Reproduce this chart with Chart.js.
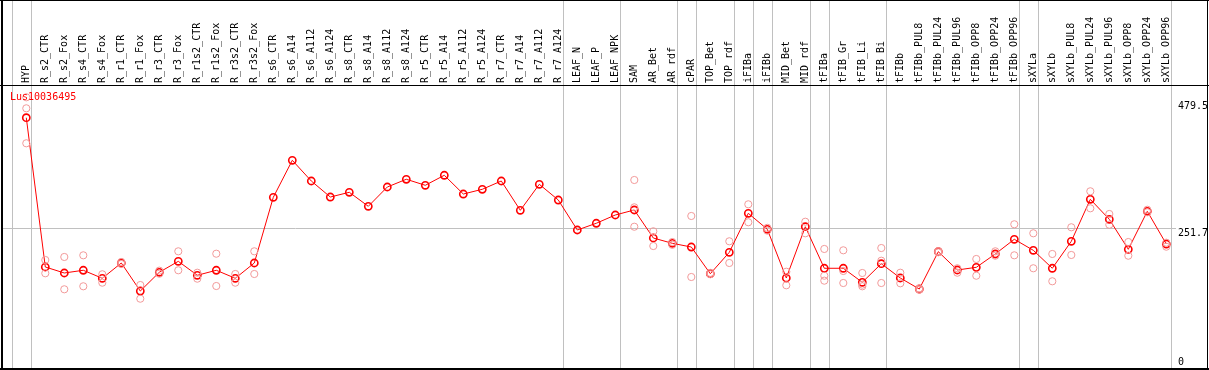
<!DOCTYPE html>
<html><head><meta charset="utf-8">
<script src="https://cdn.jsdelivr.net/npm/chart.js@4"></script>
<style>html,body{margin:0;padding:0;background:#fff;} canvas{display:block;}</style>
</head><body>
<canvas id="c" width="1209" height="370"></canvas>
<script>
const geneName = 'Lus10036495';
const categories = ['HYP','R_s2_CTR','R_s2_Fox','R_s4_CTR','R_s4_Fox','R_r1_CTR','R_r1_Fox','R_r3_CTR','R_r3_Fox','R_r1s2_CTR','R_r1s2_Fox','R_r3s2_CTR','R_r3s2_Fox','R_s6_CTR','R_s6_A14','R_s6_A112','R_s6_A124','R_s8_CTR','R_s8_A14','R_s8_A112','R_s8_A124','R_r5_CTR','R_r5_A14','R_r5_A112','R_r5_A124','R_r7_CTR','R_r7_A14','R_r7_A112','R_r7_A124','LEAF_N','LEAF_P','LEAF_NPK','SAM','AR_Bet','AR_rdf','cPAR','TOP_Bet','TOP_rdf','iFIBa','iFIBb','MID_Bet','MID_rdf','tFIBa','tFIB_Gr','tFIB_Li','tFIB_Bi','tFIBb','tFIBb_PUL8','tFIBb_PUL24','tFIBb_PUL96','tFIBb_OPP8','tFIBb_OPP24','tFIBb_OPP96','sXYLa','sXYLb','sXYLb_PUL8','sXYLb_PUL24','sXYLb_PUL96','sXYLb_OPP8','sXYLb_OPP24','sXYLb_OPP96'];
const means = [450.0,181.6,170.8,175.7,161.3,188.8,138.4,172.1,191.8,166.7,175.7,161.3,188.8,306.9,373.4,336.2,307.4,315.9,290.7,325.4,339.3,328.5,346.5,312.8,321.3,336.2,283.5,330.3,302.0,248.1,260.2,275.1,284.1,233.7,224.2,217.5,169.5,208.0,278.1,249.4,161.8,254.0,179.3,179.3,154.1,187.5,161.8,142.0,209.1,176.2,181.0,205.0,231.4,211.6,179.3,227.8,303.3,267.3,213.4,281.7,222.9];
const rep1 = [486.7,194.2,199.6,202.6,168.5,190.5,149.2,175.0,209.8,171.3,205.5,169.0,209.8,null,null,null,null,null,null,null,null,null,null,null,null,null,null,null,null,null,null,null,338.0,245.8,226.5,273.3,171.0,227.8,294.3,252.0,173.1,263.0,214.0,211.6,170.8,215.7,171.3,143.0,210.0,179.3,196.0,209.8,258.4,242.2,205.0,253.0,317.7,276.9,226.5,284.5,225.3];
const rep2 = [466.9,170.3,141.5,146.9,153.4,187.0,124.6,169.5,175.7,160.6,147.4,153.4,169.0,null,null,null,null,null,null,null,null,null,null,null,null,null,null,null,null,null,null,null,288.9,219.3,221.5,163.6,168.5,188.8,262.0,247.0,148.7,242.2,165.9,152.8,146.9,192.9,152.3,141.0,208.0,171.3,165.9,201.9,202.6,179.3,155.9,203.2,287.1,257.6,201.9,280.0,218.1];
const rep3 = [404.0,null,null,null,null,null,null,null,null,null,null,null,null,null,null,null,null,null,null,null,null,null,null,null,null,null,null,null,null,null,null,null,254.0,null,null,null,null,null,null,null,null,null,157.0,174.4,149.8,152.8,null,null,null,null,null,null,null,null,null,null,null,null,null,null,null];
const yTickValues = [0, 251.7, 479.5];
const yTickLabels = ['0', '251.7', '479.5'];
const gridValue = 251.7;
const separators = [-1, 0, 28, 31, 34, 35, 37, 38, 39, 41, 42, 45, 52, 53, 60];

const toPts = arr => arr.map((v, i) => v === null ? null : {x: i, y: v}).filter(p => p);
const XFONT = {family: 'DejaVu Sans Mono', size: 10, lineHeight: 0.01};
const YFONT = {family: 'DejaVu Sans Mono', size: 10, lineHeight: 1.1};

const zeroPad = s => { s.paddingLeft = 0; s.paddingRight = 0; s.paddingTop = 0; s.paddingBottom = 0; };

const framePlugin = {
  id: 'frame',
  beforeDatasetsDraw(chart) {
    const {ctx, chartArea, scales} = chart;
    ctx.save();
    ctx.fillStyle = '#c0c0c0';
    separators.forEach(s => {
      const px = Math.round(scales.x.getPixelForValue(s + 0.24));
      ctx.fillRect(px, 1, 1, chartArea.bottom - 1);
    });
    ctx.restore();
  },
  afterDraw(chart) {
    const {ctx, chartArea} = chart;
    ctx.save();
    ctx.fillStyle = '#000';
    ctx.fillRect(1, 0, 2, 370);
    ctx.fillRect(0, 0, 1209, 1);
    ctx.fillRect(0, Math.round(chartArea.bottom), 1209, 2);
    ctx.fillRect(1207, 0, 1, 370);
    ctx.fillRect(0, Math.round(chartArea.top), 1209, 1);
    ctx.fillStyle = '#ff0000';
    ctx.font = '10px "DejaVu Sans Mono"';
    ctx.textBaseline = 'middle';
    ctx.textAlign = 'left';
    ctx.fillText(geneName, 10, chartArea.top + 12);
    ctx.restore();
  }
};

const repStyle = {showLine: false, pointRadius: 3.6, pointBorderWidth: 1, pointBorderColor: '#f29a9a', pointBackgroundColor: 'rgba(0,0,0,0)', pointHoverRadius: 3.6};

new Chart(document.getElementById('c'), {
  type: 'scatter',
  data: {
    datasets: [
      Object.assign({label: 'rep1', data: toPts(rep1)}, repStyle),
      Object.assign({label: 'rep2', data: toPts(rep2)}, repStyle),
      Object.assign({label: 'rep3', data: toPts(rep3)}, repStyle),
      {label: geneName, data: toPts(means), showLine: true, borderColor: '#ff0000', borderWidth: 1,
       pointRadius: 3.6, pointBorderWidth: 1.6, pointBorderColor: '#ff0000', pointBackgroundColor: 'rgba(0,0,0,0)', pointHoverRadius: 3.6}
    ]
  },
  options: {
    responsive: false,
    animation: false,
    devicePixelRatio: 1,
    events: [],
    layout: {autoPadding: false, padding: {left: 2, top: 0, right: 2, bottom: 2}},
    plugins: {legend: {display: false}, tooltip: {enabled: false}, title: {display: false}},
    scales: {
      x: {
        type: 'linear', position: 'top',
        min: -1.279, max: 60.51,
        afterBuildTicks: s => { s.ticks = categories.map((c, i) => ({value: i})); },
        afterFit: s => { s.height = 85; zeroPad(s); },
        ticks: {autoSkip: false, minRotation: 90, maxRotation: 90, padding: 2, color: '#000', font: XFONT,
                callback: v => categories[v]},
        grid: {display: false, drawTicks: false, tickLength: 0},
        border: {display: false}
      },
      y: {
        type: 'linear', position: 'right',
        min: 0, max: 508.8,
        afterBuildTicks: s => { s.ticks = yTickValues.map(v => ({value: v})); },
        afterFit: s => { s.width = 31; zeroPad(s); },
        ticks: {padding: 2, color: '#000', font: YFONT,
                callback: v => { const lbl = yTickLabels[yTickValues.indexOf(v)]; return v === 0 ? [lbl, ''] : ['', lbl]; }},
        grid: {drawTicks: false, tickLength: 0, lineWidth: 1, color: c => (c.tick && c.tick.value === gridValue) ? '#c0c0c0' : 'rgba(0,0,0,0)'},
        border: {display: false}
      }
    }
  },
  plugins: [framePlugin]
});
</script>
</body></html>
